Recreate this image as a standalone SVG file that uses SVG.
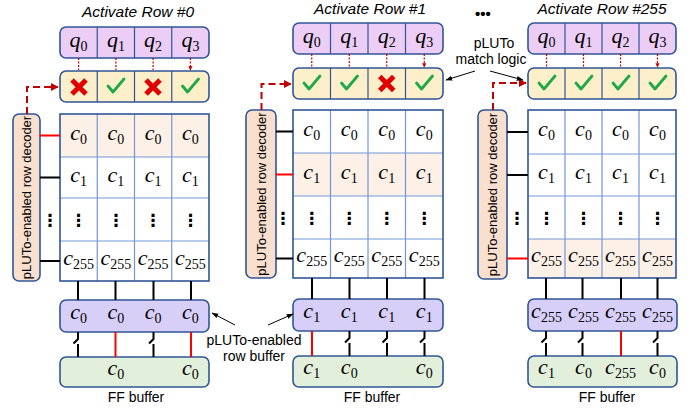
<svg xmlns="http://www.w3.org/2000/svg" width="694" height="411" viewBox="0 0 694 411">
<style>
.bx{stroke:#2f5597;stroke-width:1.6}
.q{fill:#eccdf6}
.mt{fill:#fcefc9}
.dec{fill:#f9dfcd}
.rb{fill:#d8cff9}
.ff{fill:#e2efda}
.sh{fill:#fcf0e7}
.grid{stroke:#7397d6;stroke-width:1.2;fill:none}
.div{stroke:#2f5597;stroke-width:1.2}
.m{font-family:"Liberation Serif","DejaVu Serif",serif;font-style:italic;font-size:22px;text-anchor:middle;fill:#000}
.s{font-style:normal;font-size:14px}
.lb{font-family:"Liberation Sans","DejaVu Sans",sans-serif;font-size:13px;fill:#000;text-anchor:middle}
.tt{font-family:"Liberation Sans","DejaVu Sans",sans-serif;font-size:15.5px;font-style:italic;fill:#000;text-anchor:middle}
.dots{font-family:"DejaVu Sans",sans-serif;font-size:17px;font-weight:bold;text-anchor:middle;fill:#000}
.chk{fill:none;stroke:#1fa84a;stroke-width:2.8;stroke-linecap:round;stroke-linejoin:round}
.x{stroke:#e00000;stroke-width:5;stroke-linecap:butt}
.sa{stroke:#c00000;stroke-width:1.2;stroke-dasharray:2 1.5;fill:none}
.da{stroke:#c00000;stroke-width:2;stroke-dasharray:7 4;fill:none}
.bl{stroke:#000;stroke-width:2;fill:none}
.rd{stroke:#ff0000;stroke-width:2;fill:none}
.thin{stroke:#000;stroke-width:1;fill:none}
</style>
<defs>
<marker id="ra" viewBox="0 0 10 10" refX="9" refY="5" markerWidth="4" markerHeight="4" orient="auto"><path d="M0,0 L10,5 L0,10 z" fill="#c00000"/></marker>
<marker id="rab" viewBox="0 0 10 10" refX="9" refY="5" markerWidth="3.5" markerHeight="3.5" orient="auto"><path d="M0,0 L10,5 L0,10 z" fill="#c00000"/></marker>
<marker id="ba" viewBox="0 0 10 10" refX="9" refY="5" markerWidth="7" markerHeight="7" orient="auto"><path d="M0,1.5 L10,5 L0,8.5 z" fill="#000"/></marker>
</defs>

<!-- ===== Panel 0 ===== -->
<g id="title0"><text class="tt" x="138" y="17">Activate Row #0</text></g>
<g id="qreg0">
<rect class="bx q" x="60" y="27" width="149" height="31" rx="6"/>
<line class="div" x1="97.25" y1="27" x2="97.25" y2="58"/><line class="div" x1="134.5" y1="27" x2="134.5" y2="58"/><line class="div" x1="171.75" y1="27" x2="171.75" y2="58"/>
<text class="m" x="78.6" y="47">q<tspan class="s" dy="4">0</tspan></text>
<text class="m" x="115.9" y="47">q<tspan class="s" dy="4">1</tspan></text>
<text class="m" x="153.1" y="47">q<tspan class="s" dy="4">2</tspan></text>
<text class="m" x="190.4" y="47">q<tspan class="s" dy="4">3</tspan></text>
</g>
<g id="match0">
<rect class="bx mt" x="60" y="71" width="149" height="31" rx="6"/>
<line class="div" x1="97.25" y1="71" x2="97.25" y2="102"/><line class="div" x1="134.5" y1="71" x2="134.5" y2="102"/><line class="div" x1="171.75" y1="71" x2="171.75" y2="102"/>
<path class="x" d="M72,80 L86,94 M86,80 L72,94"/>
<path class="chk" d="M108,86 L113,92 L124,79"/>
<path class="x" d="M146,80 L160,94 M160,80 L146,94"/>
<path class="chk" d="M182.5,86 L187.5,92 L198.5,79"/>
</g>
<g id="decoder0">
<rect class="bx dec" x="13" y="114" width="27" height="167" rx="6"/>
<text class="lb" transform="translate(31,197.5) rotate(-90)">pLUTo-enabled row decoder</text>
</g>
<g id="array0">
<rect x="60" y="114" width="149" height="43" class="sh"/>
<path class="grid" d="M97.25,114V281M134.5,114V281M171.75,114V281M60,157H209M60,198H209M60,241H209"/>
<rect x="60" y="114" width="149" height="167" fill="none" stroke="#2f5597" stroke-width="1.6"/>
<text class="m" x="78.6" y="140">c<tspan class="s" dy="4">0</tspan></text>
<text class="m" x="115.9" y="140">c<tspan class="s" dy="4">0</tspan></text>
<text class="m" x="153.1" y="140">c<tspan class="s" dy="4">0</tspan></text>
<text class="m" x="190.4" y="140">c<tspan class="s" dy="4">0</tspan></text>
<text class="m" x="78.6" y="182">c<tspan class="s" dy="4">1</tspan></text>
<text class="m" x="115.9" y="182">c<tspan class="s" dy="4">1</tspan></text>
<text class="m" x="153.1" y="182">c<tspan class="s" dy="4">1</tspan></text>
<text class="m" x="190.4" y="182">c<tspan class="s" dy="4">1</tspan></text>
<text class="dots" x="78.6" y="226">⋮</text><text class="dots" x="115.9" y="226">⋮</text><text class="dots" x="153.1" y="226">⋮</text><text class="dots" x="190.4" y="226">⋮</text>
<text class="m" x="78.6" y="265">c<tspan class="s" dy="4">255</tspan></text>
<text class="m" x="115.9" y="265">c<tspan class="s" dy="4">255</tspan></text>
<text class="m" x="153.1" y="265">c<tspan class="s" dy="4">255</tspan></text>
<text class="m" x="190.4" y="265">c<tspan class="s" dy="4">255</tspan></text>
</g>
<g id="rowbuf0">
<rect class="bx rb" x="60" y="300" width="149" height="32" rx="6"/>
<text class="m" x="78.6" y="319">c<tspan class="s" dy="4">0</tspan></text>
<text class="m" x="115.9" y="319">c<tspan class="s" dy="4">0</tspan></text>
<text class="m" x="153.1" y="319">c<tspan class="s" dy="4">0</tspan></text>
<text class="m" x="190.4" y="319">c<tspan class="s" dy="4">0</tspan></text>
</g>
<g id="ff0">
<rect class="bx ff" x="60" y="357" width="149" height="30" rx="6"/>
<text class="m" x="115.9" y="375">c<tspan class="s" dy="4">0</tspan></text>
<text class="m" x="190.4" y="375">c<tspan class="s" dy="4">0</tspan></text>
<text class="lb" x="136" y="402" style="font-size:14px">FF buffer</text>
</g>

<!-- ===== Panel 1 ===== -->
<g id="title1"><text class="tt" x="370" y="14">Activate Row #1</text></g>
<g id="qreg1">
<rect class="bx q" x="293" y="23" width="150" height="31" rx="6"/>
<line class="div" x1="330.5" y1="23" x2="330.5" y2="54"/><line class="div" x1="368" y1="23" x2="368" y2="54"/><line class="div" x1="405.5" y1="23" x2="405.5" y2="54"/>
<text class="m" x="311.75" y="43">q<tspan class="s" dy="4">0</tspan></text>
<text class="m" x="349.25" y="43">q<tspan class="s" dy="4">1</tspan></text>
<text class="m" x="386.75" y="43">q<tspan class="s" dy="4">2</tspan></text>
<text class="m" x="424.25" y="43">q<tspan class="s" dy="4">3</tspan></text>
</g>
<g id="match1">
<rect class="bx mt" x="293" y="68" width="150" height="31" rx="6"/>
<line class="div" x1="330.5" y1="68" x2="330.5" y2="99"/><line class="div" x1="368" y1="68" x2="368" y2="99"/><line class="div" x1="405.5" y1="68" x2="405.5" y2="99"/>
<path class="chk" d="M304,83 L309,89 L320,76"/>
<path class="chk" d="M341.5,83 L346.5,89 L357.5,76"/>
<path class="x" d="M379.75,76.5 L393.75,90.5 M393.75,76.5 L379.75,90.5"/>
<path class="chk" d="M416.5,83 L421.5,89 L432.5,76"/>
</g>
<g id="decoder1">
<rect class="bx dec" x="246" y="110" width="30" height="168" rx="6"/>
<text class="lb" transform="translate(265.5,194) rotate(-90)">pLUTo-enabled row decoder</text>
</g>
<g id="array1">
<rect x="293" y="153" width="150" height="43" class="sh"/>
<path class="grid" d="M330.5,110V278M368,110V278M405.5,110V278M293,153H443M293,196H443M293,239H443"/>
<rect x="293" y="110" width="150" height="168" fill="none" stroke="#2f5597" stroke-width="1.6"/>
<text class="m" x="311.75" y="136">c<tspan class="s" dy="4">0</tspan></text>
<text class="m" x="349.25" y="136">c<tspan class="s" dy="4">0</tspan></text>
<text class="m" x="386.75" y="136">c<tspan class="s" dy="4">0</tspan></text>
<text class="m" x="424.25" y="136">c<tspan class="s" dy="4">0</tspan></text>
<text class="m" x="311.75" y="179">c<tspan class="s" dy="4">1</tspan></text>
<text class="m" x="349.25" y="179">c<tspan class="s" dy="4">1</tspan></text>
<text class="m" x="386.75" y="179">c<tspan class="s" dy="4">1</tspan></text>
<text class="m" x="424.25" y="179">c<tspan class="s" dy="4">1</tspan></text>
<text class="dots" x="311.75" y="224">⋮</text><text class="dots" x="349.25" y="224">⋮</text><text class="dots" x="386.75" y="224">⋮</text><text class="dots" x="424.25" y="224">⋮</text>
<text class="m" x="311.75" y="262">c<tspan class="s" dy="4">255</tspan></text>
<text class="m" x="349.25" y="262">c<tspan class="s" dy="4">255</tspan></text>
<text class="m" x="386.75" y="262">c<tspan class="s" dy="4">255</tspan></text>
<text class="m" x="424.25" y="262">c<tspan class="s" dy="4">255</tspan></text>
</g>
<g id="rowbuf1">
<rect class="bx rb" x="293" y="299" width="150" height="32" rx="6"/>
<text class="m" x="311.75" y="318">c<tspan class="s" dy="4">1</tspan></text>
<text class="m" x="349.25" y="318">c<tspan class="s" dy="4">1</tspan></text>
<text class="m" x="386.75" y="318">c<tspan class="s" dy="4">1</tspan></text>
<text class="m" x="424.25" y="318">c<tspan class="s" dy="4">1</tspan></text>
</g>
<g id="ff1">
<rect class="bx ff" x="293" y="356" width="150" height="31" rx="6"/>
<text class="m" x="311.75" y="374">c<tspan class="s" dy="4">1</tspan></text>
<text class="m" x="349.25" y="374">c<tspan class="s" dy="4">0</tspan></text>
<text class="m" x="424.25" y="374">c<tspan class="s" dy="4">0</tspan></text>
<text class="lb" x="372" y="402" style="font-size:14px">FF buffer</text>
</g>

<!-- ===== Panel 255 ===== -->
<g id="title255"><text class="tt" x="602" y="14">Activate Row #255</text></g>
<g id="qreg255">
<rect class="bx q" x="528" y="23" width="148" height="31" rx="6"/>
<line class="div" x1="565" y1="23" x2="565" y2="54"/><line class="div" x1="602" y1="23" x2="602" y2="54"/><line class="div" x1="639" y1="23" x2="639" y2="54"/>
<text class="m" x="546.5" y="43">q<tspan class="s" dy="4">0</tspan></text>
<text class="m" x="583.5" y="43">q<tspan class="s" dy="4">1</tspan></text>
<text class="m" x="620.5" y="43">q<tspan class="s" dy="4">2</tspan></text>
<text class="m" x="657.5" y="43">q<tspan class="s" dy="4">3</tspan></text>
</g>
<g id="match255">
<rect class="bx mt" x="528" y="68" width="148" height="31" rx="6"/>
<line class="div" x1="565" y1="68" x2="565" y2="99"/><line class="div" x1="602" y1="68" x2="602" y2="99"/><line class="div" x1="639" y1="68" x2="639" y2="99"/>
<path class="chk" d="M539,83 L544,89 L555,76"/>
<path class="chk" d="M576,83 L581,89 L592,76"/>
<path class="chk" d="M613,83 L618,89 L629,76"/>
<path class="chk" d="M650,83 L655,89 L666,76"/>
</g>
<g id="decoder255">
<rect class="bx dec" x="478" y="110" width="29" height="169" rx="6"/>
<text class="lb" transform="translate(497,194.5) rotate(-90)">pLUTo-enabled row decoder</text>
</g>
<g id="array255">
<rect x="528" y="239" width="148" height="39" class="sh"/>
<path class="grid" d="M565,110V278M602,110V278M639,110V278M528,154H676M528,196H676M528,239H676"/>
<rect x="528" y="110" width="148" height="168" fill="none" stroke="#2f5597" stroke-width="1.6"/>
<text class="m" x="546.5" y="136">c<tspan class="s" dy="4">0</tspan></text>
<text class="m" x="583.5" y="136">c<tspan class="s" dy="4">0</tspan></text>
<text class="m" x="620.5" y="136">c<tspan class="s" dy="4">0</tspan></text>
<text class="m" x="657.5" y="136">c<tspan class="s" dy="4">0</tspan></text>
<text class="m" x="546.5" y="179">c<tspan class="s" dy="4">1</tspan></text>
<text class="m" x="583.5" y="179">c<tspan class="s" dy="4">1</tspan></text>
<text class="m" x="620.5" y="179">c<tspan class="s" dy="4">1</tspan></text>
<text class="m" x="657.5" y="179">c<tspan class="s" dy="4">1</tspan></text>
<text class="dots" x="546.5" y="224">⋮</text><text class="dots" x="583.5" y="224">⋮</text><text class="dots" x="620.5" y="224">⋮</text><text class="dots" x="657.5" y="224">⋮</text>
<text class="m" x="546.5" y="262">c<tspan class="s" dy="4">255</tspan></text>
<text class="m" x="583.5" y="262">c<tspan class="s" dy="4">255</tspan></text>
<text class="m" x="620.5" y="262">c<tspan class="s" dy="4">255</tspan></text>
<text class="m" x="657.5" y="262">c<tspan class="s" dy="4">255</tspan></text>
</g>
<g id="rowbuf255">
<rect class="bx rb" x="528" y="299" width="149" height="32" rx="6"/>
<text class="m" x="546.5" y="318">c<tspan class="s" dy="4">255</tspan></text>
<text class="m" x="583.5" y="318">c<tspan class="s" dy="4">255</tspan></text>
<text class="m" x="620.5" y="318">c<tspan class="s" dy="4">255</tspan></text>
<text class="m" x="657.5" y="318">c<tspan class="s" dy="4">255</tspan></text>
</g>
<g id="ff255">
<rect class="bx ff" x="528" y="356" width="149" height="31" rx="6"/>
<text class="m" x="546.5" y="374">c<tspan class="s" dy="4">1</tspan></text>
<text class="m" x="583.5" y="374">c<tspan class="s" dy="4">0</tspan></text>
<text class="m" x="620.5" y="374">c<tspan class="s" dy="4">255</tspan></text>
<text class="m" x="657.5" y="374">c<tspan class="s" dy="4">0</tspan></text>
<text class="lb" x="607" y="402" style="font-size:14px">FF buffer</text>
</g>

<!-- labels -->
<g id="ellipsis"><text class="lb" x="483" y="19" style="font-size:15px;font-weight:bold">•••</text></g>
<g id="matchlabel">
<text class="lb" x="494" y="48" style="font-size:14px">pLUTo</text>
<text class="lb" x="491" y="64" style="font-size:14px">match logic</text>
</g>
<g id="rblabel">
<text class="lb" x="254" y="345" style="font-size:14px">pLUTo-enabled</text>
<text class="lb" x="254" y="361" style="font-size:14px">row buffer</text>
</g>

<!-- connectors -->
<g id="connectors">
<path class="sa" marker-end="url(#rab)" d="M78.6,58V70M115.9,58V70M153.1,58V70M190.4,58V70"/>
<path class="sa" marker-end="url(#rab)" d="M311.75,54V67M349.25,54V67M386.75,54V67M424.25,54V67"/>
<path class="sa" marker-end="url(#rab)" d="M546.5,54V67M583.5,54V67M620.5,54V67M657.5,54V67"/>
<path class="da" marker-end="url(#ra)" d="M27,114V87H58"/>
<path class="da" marker-end="url(#ra)" d="M261.5,110V84H291"/>
<path class="da" marker-end="url(#ra)" d="M493,110V83H526"/>
<path class="rd" d="M40,135.5H60"/>
<path class="bl" d="M40,177.5H60M40,261H60"/>
<text class="dots" x="50" y="226">⋮</text>
<path class="bl" d="M276,131.5H293M276,258.5H293"/>
<path class="rd" d="M276,174.5H293"/>
<text class="dots" x="283" y="224">⋮</text>
<path class="bl" d="M507,132H528M507,175H528"/>
<path class="rd" d="M507,258.5H528"/>
<text class="dots" x="517" y="224">⋮</text>
<path class="bl" d="M78,281V300M115.5,281V300M153.5,281V300M191,281V300"/>
<path class="bl" d="M312,278V299M349.5,278V299M387,278V299M424.5,278V299"/>
<path class="bl" d="M546,278V299M582.5,278V299M621,278V299M657.5,278V299"/>
<path class="bl" d="M78,332V339L73.5,343.5M78,344V357"/>
<path class="rd" d="M115.5,332V357"/>
<path class="bl" d="M153.5,332V339L149,343.5M153.5,344V357"/>
<path class="rd" d="M191,332V357"/>
<path class="rd" d="M312,331V356"/>
<path class="bl" d="M349.5,331V338L345,342.5M349.5,343V356"/>
<path class="bl" d="M387,331V338L382.5,342.5M387,343V356"/>
<path class="bl" d="M424.5,331V338L420,342.5M424.5,343V356"/>
<path class="bl" d="M546,331V338L541.5,342.5M546,343V356"/>
<path class="bl" d="M582.5,331V338L578,342.5M582.5,343V356"/>
<path class="rd" d="M621,331V356"/>
<path class="bl" d="M657.5,331V338L653,342.5M657.5,343V356"/>
<path class="thin" marker-end="url(#ba)" d="M235,325L212,313"/>
<path class="thin" marker-end="url(#ba)" d="M268,325L293,314"/>
<path class="thin" marker-end="url(#ba)" d="M475,71L446,80"/>
<path class="thin" marker-end="url(#ba)" d="M490,71L523,80"/>
</g>
</svg>
